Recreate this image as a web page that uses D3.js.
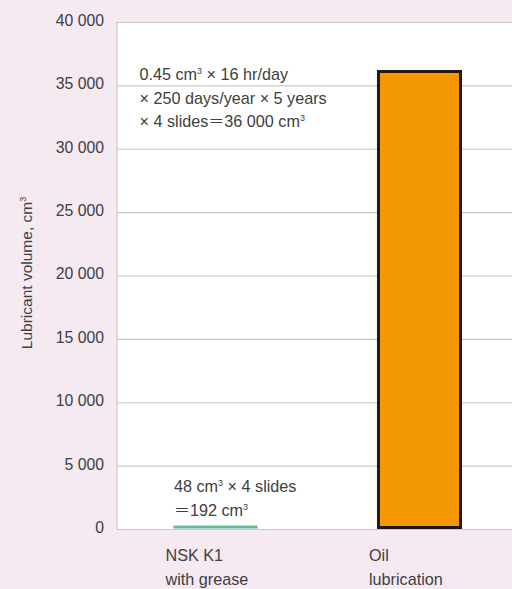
<!DOCTYPE html>
<html><head><meta charset="utf-8">
<script src="https://cdn.jsdelivr.net/npm/d3@7"></script>
<style>
html,body{margin:0;padding:0;background:#f5eaf1;}
svg{display:block;}
text{font-family:"Liberation Sans",Arial,sans-serif;fill:#404040;}
</style></head>
<body>
<svg id="c" width="512" height="589"></svg>
<script>
const categories = ["NSK K1 with grease", "Oil lubrication"];
const catLines = [["NSK K1", "with grease"], ["Oil", "lubrication"]];
const values = [192, 36000];
const yTicks = [0, 5000, 10000, 15000, 20000, 25000, 30000, 35000, 40000];
const oilNote = ["0.45 cm³ × 16 hr/day", "× 250 days/year × 5 years", "× 4 slides＝36 000 cm³"];
const greaseNote = ["48 cm³ × 4 slides", "＝192 cm³"];

const svg = d3.select("#c");
const mL = 117, mR = 512, mT = 22, mB = 529;

const y = d3.scaleLinear().domain([0, 40000]).range([mB, mT]);
const x = d3.scaleBand().domain(categories).range([113.75, 520.75]).paddingInner(0.587).paddingOuter(0.2935);

svg.append("rect").attr("x", mL).attr("y", mT).attr("width", mR - mL).attr("height", mB - mT).attr("fill", "#fff");

const fmt = v => d3.format(",")(v).replace(/,/g, " ");

const yAxis = d3.axisLeft(y).tickValues(yTicks).tickSize(-(mR - mL)).tickFormat(fmt).tickPadding(13);
const ga = svg.append("g").attr("transform", `translate(${mL},0)`).call(yAxis);
ga.select(".domain").remove();
ga.selectAll(".tick line").attr("stroke", "#c8c8c8").attr("stroke-width", 1.2);
ga.selectAll(".tick text").attr("font-size", 15.8).attr("fill", "#454545").attr("dy", "0.22em")
  .style("font-family", '"Liberation Sans",Arial,sans-serif');
svg.append("line").attr("x1", mL).attr("x2", mL).attr("y1", mT).attr("y2", mB).attr("stroke", "#c8c8c8").attr("stroke-width", 1.2);

// bars
svg.append("rect").attr("x", x(categories[0])).attr("width", x.bandwidth())
  .attr("y", y(values[0]) - 1).attr("height", mB - y(values[0]) + 0.5).attr("fill", "#5ebf95");
svg.append("rect").attr("x", x(categories[1]) + 1.5).attr("width", x.bandwidth() - 2)
  .attr("y", y(values[1]) - 1.2).attr("height", mB - y(values[1]) + 1.2 - 1.5)
  .attr("fill", "#f39800").attr("stroke", "#231815").attr("stroke-width", 3);

// category labels
catLines.forEach((lines, i) => {
  const t = svg.append("text").attr("x", x(categories[i]) - 8).attr("y", 561).attr("font-size", 16.2);
  lines.forEach((l, j) => t.append("tspan").attr("x", x(categories[i]) - 8).attr("dy", j ? 23.5 : 0).text(l));
});

// notes with superscript 3 and wide equals sign
function note(lines, x0, y0, dy) {
  lines.forEach((l, j) => {
    const t = svg.append("text").attr("x", x0).attr("y", y0 + j * dy).attr("font-size", 16.2);
    let shift = 0;
    const tokens = l.split(/(³|＝)/).filter(s => s !== "");
    tokens.forEach(tok => {
      if (tok === "³") {
        t.append("tspan").attr("font-size", 9).attr("dy", -6).text("3");
        shift = 6;
      } else if (tok === "＝") {
        t.append("tspan").attr("dy", shift).style("font-family", '"Noto Sans CJK JP"').attr("font-size", 16).text("＝");
        shift = 0;
      } else {
        t.append("tspan").attr("dy", shift).text(tok);
        shift = 0;
      }
    });
  });
}
note(oilNote, 139.5, 80, 23.5);
note(greaseNote, 174, 492, 23.5);

// y title
const yt = svg.append("text").attr("transform", "translate(32,273) rotate(-90)").attr("text-anchor", "middle").attr("font-size", 15.5);
yt.append("tspan").text("Lubricant volume, cm");
yt.append("tspan").attr("font-size", 9).attr("dy", -6).text("3");
</script>
</body></html>
